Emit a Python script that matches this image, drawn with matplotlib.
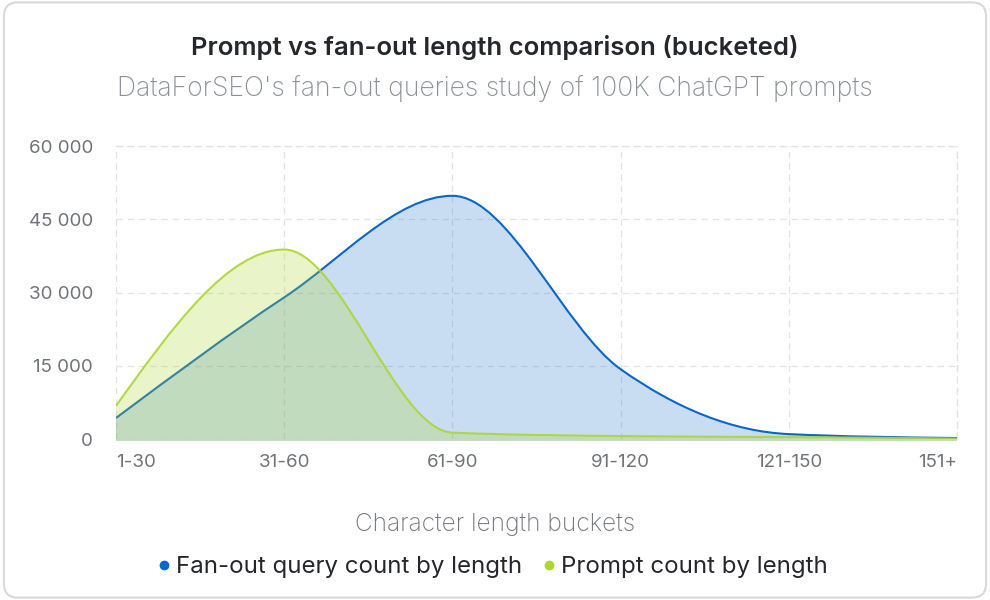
import numpy as np
import matplotlib.pyplot as plt
from matplotlib.path import Path
from matplotlib.patches import PathPatch, FancyBboxPatch
from matplotlib.lines import Line2D
from matplotlib.ticker import FuncFormatter

plt.rcParams['font.family'] = ['Inter', 'DejaVu Sans']

buckets = ['1-30', '31-60', '61-90', '91-120', '121-150', '151+']
fanout_counts = [4300, 29000, 49800, 14300, 1000, 200]
prompt_counts = [6800, 38800, 1300, 600, 400, 100]

blue = '#0a66c8'
green = '#acd630'


def monotone_path(x, y, close_to=None):
    # courbe "monotone X" (comme d3) rendue en segments de Bezier cubiques
    x = np.asarray(x, float)
    y = np.asarray(y, float)
    n = len(x)
    h = np.diff(x)
    s = np.diff(y) / h
    t = np.zeros(n)
    for i in range(1, n - 1):
        p = (s[i - 1] * h[i] + s[i] * h[i - 1]) / (h[i - 1] + h[i])
        t[i] = (np.sign(s[i - 1]) + np.sign(s[i])) * min(abs(s[i - 1]), abs(s[i]), 0.5 * abs(p))
    t[0] = (3 * s[0] - t[1]) / 2
    t[-1] = (3 * s[-1] - t[-2]) / 2
    verts = [(x[0], y[0])]
    codes = [Path.MOVETO]
    for i in range(n - 1):
        dx = h[i] / 3
        verts += [(x[i] + dx, y[i] + dx * t[i]), (x[i + 1] - dx, y[i + 1] - dx * t[i + 1]), (x[i + 1], y[i + 1])]
        codes += [Path.CURVE4] * 3
    if close_to is not None:
        verts += [(x[-1], close_to), (x[0], close_to), (x[0], y[0])]
        codes += [Path.LINETO, Path.LINETO, Path.CLOSEPOLY]
    return Path(verts, codes)


fig = plt.figure(figsize=(9.9, 6), dpi=100)
card = FancyBboxPatch((0.004, 0.004), 0.992, 0.992, boxstyle='round,pad=0,rounding_size=0.014',
                      transform=fig.transFigure, facecolor='white', edgecolor='#d9d9d9', lw=1.5,
                      mutation_aspect=990 / 600, zorder=-10)
fig.patches.append(card)

ax = fig.add_axes([116 / 990, 1 - 439 / 600, (957 - 116) / 990, (439 - 146) / 600])
ax.set_facecolor('none')
ax.set_zorder(1)
xs = np.arange(len(buckets))

ax.add_patch(PathPatch(monotone_path(xs, fanout_counts, close_to=-400), facecolor=blue, edgecolor='none', alpha=0.22, zorder=2, clip_on=False))
ax.add_patch(PathPatch(monotone_path(xs, fanout_counts), facecolor='none', edgecolor=blue, lw=1.5, zorder=3))
ax.add_patch(PathPatch(monotone_path(xs, prompt_counts, close_to=-400), facecolor=green, edgecolor='none', alpha=0.26, zorder=4, clip_on=False))
ax.add_patch(PathPatch(monotone_path(xs, prompt_counts), facecolor='none', edgecolor=green, lw=1.5, alpha=0.9, zorder=5))

ax.set_xlim(0, len(buckets) - 1)
ax.set_ylim(0, 60000)
ax.set_yticks([0, 15000, 30000, 45000, 60000])
ax.yaxis.set_major_formatter(FuncFormatter(lambda v, p: f'{int(v):,}'.replace(',', ' ')))
ax.set_xticks(xs)
ax.set_xticklabels(buckets)
ax.tick_params(length=0, labelsize=13.5, labelcolor='#707378')
ax.tick_params(axis='x', pad=11)
ax.tick_params(axis='y', pad=16.5)
xlabels = ax.get_xticklabels()
xlabels[0].set_ha('left')
xlabels[-1].set_ha('right')
ax.grid(True, color='#e3e3e3', ls=(0, (5, 4)), lw=0.9, zorder=0)
for side in ['left', 'bottom']:
    ax.spines[side].set_visible(False)
for side in ['right', 'top']:
    ax.spines[side].set_color('#e3e3e3')
    ax.spines[side].set_linestyle((0, (5, 4)))
    ax.spines[side].set_linewidth(0.9)
ax.set_axisbelow(True)

fig.text(0.5, 1 - 48 / 600, 'Prompt vs fan-out length comparison (bucketed)', ha='center', va='center',
         fontsize=18.5, fontweight='semibold', color='#25272d')
fig.text(0.5, 1 - 89 / 600, "DataForSEO's fan-out queries study of 100K ChatGPT prompts", ha='center', va='center',
         fontsize=19.1, fontweight='light', color='#8b8f97')
fig.text(0.5, 1 - 525 / 600, 'Character length buckets', ha='center', va='center',
         fontsize=17.6, fontweight='light', color='#75787f')

handles = [Line2D([], [], marker='o', ls='none', color=blue, markersize=6),
           Line2D([], [], marker='o', ls='none', color=green, markersize=6)]
fig.legend(handles, ['Fan-out query count by length', 'Prompt count by length'], loc='center',
           bbox_to_anchor=(0.495, 1 - 567 / 600), ncol=2, frameon=False, fontsize=17.3,
           handletextpad=0.0, handlelength=1.0, columnspacing=0.62, labelcolor='#25272d')

fig.savefig('out.png', dpi=100)
